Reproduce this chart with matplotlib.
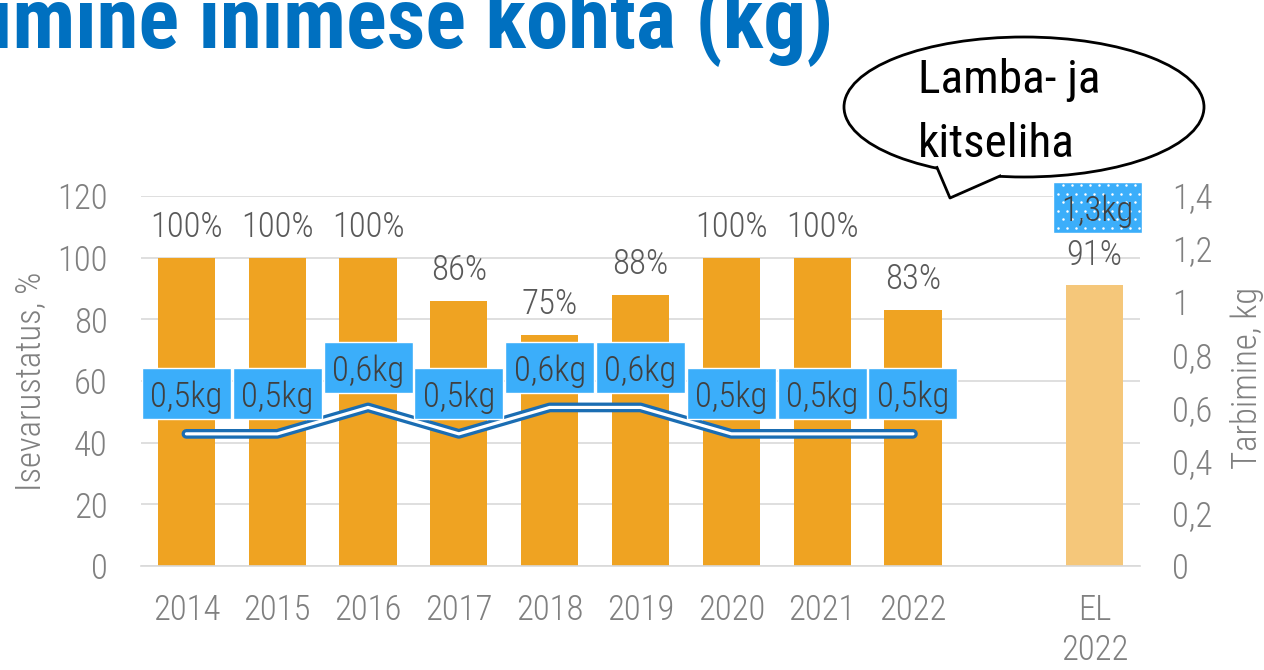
import matplotlib
matplotlib.use("Agg")
import matplotlib.pyplot as plt
from matplotlib import font_manager
from matplotlib.patches import Ellipse, Polygon, Rectangle
from matplotlib.lines import Line2D
from matplotlib.transforms import IdentityTransform

# ---- data ----
categories = ["2014", "2015", "2016", "2017", "2018", "2019", "2020", "2021", "2022", "", "EL\n2022"]
self_sufficiency = [100, 100, 100, 86, 75, 88, 100, 100, 83, None, 91]
consumption_kg = [0.5, 0.5, 0.6, 0.5, 0.6, 0.6, 0.5, 0.5, 0.5, None, 1.3]
consumption_labels = ["0,5kg", "0,5kg", "0,6kg", "0,5kg", "0,6kg", "0,6kg", "0,5kg", "0,5kg", "0,5kg", "", "1,3kg"]
left_ticks = [0, 20, 40, 60, 80, 100, 120]
right_ticks = [0, 0.2, 0.4, 0.6, 0.8, 1.0, 1.2, 1.4]
right_tick_labels = ["0", "0,2", "0,4", "0,6", "0,8", "1", "1,2", "1,4"]
title_text = "Tarbimine inimese kohta (kg)"
bubble_lines = ["Lamba- ja", "kitseliha"]

names = {f.name for f in font_manager.fontManager.ttflist}
def pick(*cands):
    for c in cands:
        if c in names:
            return c
    return "DejaVu Sans"

COND = pick("Roboto Condensed", "Liberation Sans Narrow", "Roboto")
BASE = pick("Roboto Condensed", "Roboto")

W, H = 1264, 670
fig = plt.figure(figsize=(W / 100, H / 100), dpi=100)

def fx(px):
    return px / W
def fy(py):
    return 1 - py / H

ax = fig.add_axes([fx(141), fy(566), fx(1140) - fx(141), fy(196) - fy(566)])
ax2 = ax.twinx()

xs = list(range(len(categories)))
bar_x = [x for x, v in zip(xs, self_sufficiency) if v is not None]
bar_v = [v for v in self_sufficiency if v is not None]
bar_c = ["#F5C77A" if categories[x].startswith("EL") else "#EFA322" for x in bar_x]
ax.bar(bar_x, bar_v, width=0.63, color=bar_c, zorder=2)

ax.set_xlim(-0.5, len(categories) - 0.5)
ax.set_ylim(0, 120)
ax2.set_ylim(0, 1.4)

tick_color = "#808080"
fs = 25
fw = "light"
ax.set_yticks(left_ticks)
ax.set_yticklabels([str(t) for t in left_ticks], fontsize=fs, color=tick_color, fontfamily=BASE, fontweight=fw)
ax2.set_yticks(right_ticks)
ax2.set_yticklabels(right_tick_labels, fontsize=fs, color=tick_color, fontfamily=BASE, fontweight=fw)
ax.set_xticks(xs)
ax.set_xticklabels(categories, fontsize=fs, color=tick_color, fontfamily=BASE, fontweight=fw, linespacing=1.25)
ax.tick_params(axis="y", length=0, pad=24)
ax2.tick_params(axis="y", length=0, pad=23)
ax.tick_params(axis="x", length=0, pad=20)

ax.grid(axis="y", color="#D9D9D9", lw=1.2, zorder=0)
ax.set_axisbelow(True)
for a in (ax, ax2):
    for s in ("left", "right", "top"):
        a.spines[s].set_visible(False)
ax.spines["bottom"].set_color("#D9D9D9")
ax.spines["bottom"].set_linewidth(1.2)
ax2.spines["bottom"].set_visible(False)

# percent labels
for x, v in zip(bar_x, bar_v):
    ax.annotate(f"{v}%", (x, v), xytext=(0, 22), textcoords="offset points",
                ha="center", va="center", fontsize=fs, color="#595959",
                fontfamily=BASE, fontweight=fw, zorder=5)

# line (first nine points)
lx = xs[:9]
ly = consumption_kg[:9]
ax2.plot(lx, ly, color="#1A6DB3", lw=7, solid_capstyle="round", solid_joinstyle="round", zorder=3)
ax2.plot(lx, ly, color="white", lw=2.3, solid_capstyle="round", solid_joinstyle="round", zorder=4)

# kg labels with boxes (box sizes in pixels)
BOX_W, BOX_H = 89, 51
for x, v, t in zip(xs, consumption_kg, consumption_labels):
    if v is None:
        continue
    is_el = categories[x].startswith("EL")
    px, py = ax2.transData.transform((x, v))
    off = 15 if is_el else 40
    cx = px + (3 if is_el else 0)
    cy = py + off
    rect = Rectangle((cx - BOX_W / 2, cy - BOX_H / 2), BOX_W, BOX_H, transform=IdentityTransform(),
                     fc="#3BAEFA", ec="white", lw=1, zorder=6)
    fig.add_artist(rect)
    if is_el:
        dots_x, dots_y = [], []
        r = 0
        yy = cy - BOX_H / 2 + 5
        while yy < cy + BOX_H / 2 - 2:
            xx = cx - BOX_W / 2 + 5 + (4.5 if r % 2 else 0)
            while xx < cx + BOX_W / 2 - 2:
                dots_x.append(xx)
                dots_y.append(yy)
                xx += 9
            yy += 8.5
            r += 1
        fig.add_artist(Line2D(dots_x, dots_y, transform=IdentityTransform(), ls="none",
                              marker="o", ms=1.8, mfc="white", mec="none", zorder=7))
    fig.text(cx / W, cy / H, t, ha="center", va="center_baseline", fontsize=fs, color="#404040",
             fontfamily=BASE, fontweight=fw, zorder=8)

# axis titles
fig.text(fx(30), fy(381), "Isevarustatus, %", rotation=90, ha="center", va="center",
         fontsize=fs, color=tick_color, fontfamily=BASE, fontweight=fw)
fig.text(fx(1247), fy(378), "Tarbimine, kg", rotation=90, ha="center", va="center",
         fontsize=fs, color=tick_color, fontfamily=BASE, fontweight=fw)

# title (partly cut off at the left/top, as in the source)
fig.text(fx(833), fy(48), title_text, ha="right", va="baseline", fontsize=61,
         color="#0070C0", fontweight="bold", fontfamily=COND)

# speech bubble
ell = Ellipse((fx(1024), fy(107)), fx(360), 140 / H, transform=fig.transFigure,
              fc="white", ec="black", lw=2, zorder=10)
fig.add_artist(ell)
cover = Polygon([(fx(933), fy(160)), (fx(937), fy(167)), (fx(950), fy(198)),
                 (fx(1000), fy(177)), (fx(1006), fy(168)), (fx(970), fy(150))],
                closed=True, transform=fig.transFigure, fc="white", ec="none", zorder=11)
fig.add_artist(cover)
tail = Line2D([fx(937), fx(950), fx(1000)], [fy(167.5), fy(198), fy(176)],
              transform=fig.transFigure, color="black", lw=2, zorder=12)
fig.add_artist(tail)
fig.text(fx(918), fy(93), bubble_lines[0], ha="left", va="baseline", fontsize=34,
         color="black", fontfamily=BASE, zorder=13)
fig.text(fx(918), fy(157), bubble_lines[1], ha="left", va="baseline", fontsize=34,
         color="black", fontfamily=BASE, zorder=13)

fig.savefig("out.png", dpi=100)
